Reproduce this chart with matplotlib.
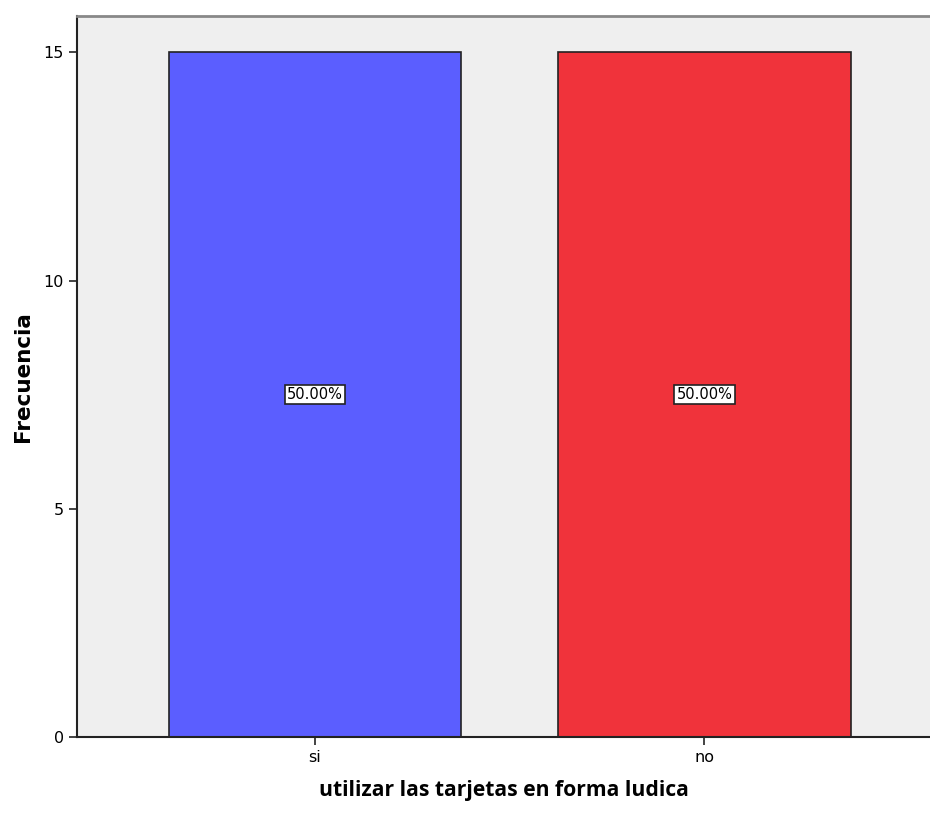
import matplotlib
matplotlib.use('Agg')
from matplotlib import pyplot as plt

categories = ['si', 'no']
frecuencia = [15, 15]
porcentaje = ['50.00%', '50.00%']
colors = ['#5B5EFF', '#F0333B']

fig = plt.figure(figsize=(9.3, 8.18), dpi=100)
ax = fig.add_axes([0.0828, 0.099, 0.9172, 0.881])
ax.set_facecolor('#EFEFEF')

x = list(range(len(categories)))
ax.bar(x, frecuencia, width=0.75, color=colors, edgecolor='#222222', linewidth=1.2, zorder=2)

for xi, v, p in zip(x, frecuencia, porcentaje):
    ax.text(xi, v / 2, p, ha='center', va='center', fontsize=10.5, family='DejaVu Sans',
            bbox=dict(boxstyle='square,pad=0.15', facecolor='white', edgecolor='#222222', linewidth=1.2),
            zorder=3)

ax.set_xlim(-0.611, 1.579)
ax.set_ylim(0, 15.79)
ax.set_xticks(x)
ax.set_xticklabels(categories)
ax.set_yticks([0, 5, 10, 15])
ax.tick_params(axis='both', length=6, width=1.2, labelsize=11.5, color='#222222')

for side in ['left', 'bottom']:
    ax.spines[side].set_color('#222222')
    ax.spines[side].set_linewidth(1.5)
ax.spines['right'].set_visible(False)
ax.spines['top'].set_color('#888888')
ax.spines['top'].set_linewidth(2)

ax.set_ylabel('Frecuencia', fontsize=15.5, fontweight='bold', family='DejaVu Sans')
ax.yaxis.set_label_coords(-0.052, 0.5)
ax.set_xlabel('utilizar las tarjetas en forma ludica', fontsize=15.2, fontweight='bold',
              family='Open Sans', labelpad=11)

plt.savefig('out.png', dpi=100)
